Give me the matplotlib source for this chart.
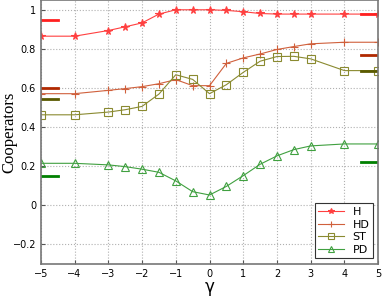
import matplotlib
matplotlib.use('Agg')
import matplotlib.pyplot as plt

# Data
gamma = [-5, -4, -3, -2.5, -2, -1.5, -1, -0.5, 0, 0.5, 1, 1.5, 2, 2.5, 3, 4, 5]
h = [0.865, 0.865, 0.894, 0.913, 0.933, 0.978, 1.0, 1.0, 1.0, 0.997, 0.99, 0.981, 0.978, 0.978, 0.978, 0.978, 0.978]
hd = [0.571, 0.571, 0.588, 0.597, 0.607, 0.622, 0.643, 0.612, 0.612, 0.726, 0.754, 0.774, 0.797, 0.812, 0.826, 0.834, 0.834]
st = [0.463, 0.463, 0.477, 0.489, 0.506, 0.569, 0.668, 0.644, 0.571, 0.617, 0.680, 0.737, 0.761, 0.762, 0.749, 0.689, 0.689]
pd = [0.215, 0.215, 0.207, 0.198, 0.185, 0.169, 0.125, 0.070, 0.053, 0.097, 0.152, 0.210, 0.253, 0.285, 0.304, 0.314, 0.314]

# short reference bars at the edges
left_ref = [0.95, 0.60, 0.545, 0.15]
right_ref = [0.98, 0.77, 0.689, 0.22]

names = ['H', 'HD', 'ST', 'PD']
line_colors = ['#ff4040', '#d0603c', '#8a8a30', '#40a040']
bar_colors = ['#ff2020', '#b02800', '#5a5a00', '#008000']
markers = ['*', '+', 's', '^']

fig = plt.figure(figsize=(3.82, 2.97), dpi=100)
ax = fig.add_axes([0.107, 0.111, 0.883, 0.889])

for y, name, c, m in zip([h, hd, st, pd], names, line_colors, markers):
    ax.plot(gamma, y, color=c, marker=m, markersize=5.5 if m != '+' else 6,
            markerfacecolor=c if m == '*' else 'none', markeredgecolor=c,
            linewidth=0.8, markeredgewidth=0.8, label=name)

for yl, yr, c in zip(left_ref, right_ref, bar_colors):
    ax.plot([-5, -4.5], [yl, yl], color=c, linewidth=2)
    ax.plot([4.5, 5], [yr, yr], color=c, linewidth=2)

ax.set_xlim(-5, 5)
ax.set_ylim(-0.3, 1.05)
ax.set_xticks(range(-5, 6))
ax.set_yticks([-0.2, 0, 0.2, 0.4, 0.6, 0.8, 1])
ax.set_yticklabels(['\u22120.2', '0', '0.2', '0.4', '0.6', '0.8', '1'])
ax.set_xticklabels([str(v).replace('-', '\u2212') for v in range(-5, 6)])
ax.tick_params(direction='in', labelsize=7, length=3, color='#555555')
ax.grid(True, linestyle=':', color='#b0b0b0', linewidth=0.8)
for s in ax.spines.values():
    s.set_color('#777777')
    s.set_linewidth(1.2)

ax.set_xlabel('\u03b3', fontsize=12)
ax.xaxis.set_label_coords(0.5, -0.087)
ax.xaxis.label.set_va('center')
ax.set_ylabel('Cooperators', fontsize=12, family='Liberation Serif')
ax.yaxis.set_label_coords(-0.092, 0.5)
ax.yaxis.label.set_va('center')

leg = ax.legend(loc='lower right', fontsize=8, fancybox=False, framealpha=1,
                edgecolor='#333333', borderpad=0.3, labelspacing=0.25,
                handlelength=2.3, markerscale=0.8, borderaxespad=0.5)
leg.get_frame().set_linewidth(0.8)

plt.savefig('out.png', dpi=100)
